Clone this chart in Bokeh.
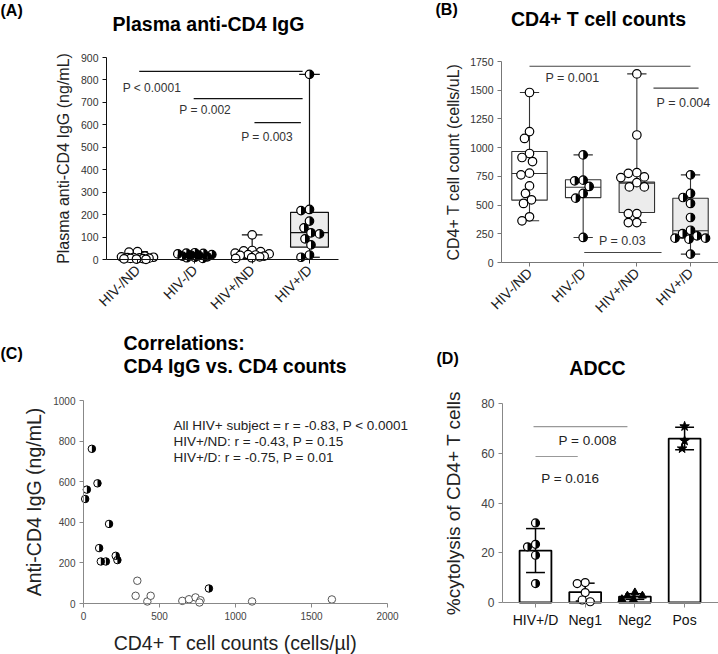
import math
import numpy as np
from bokeh.plotting import figure
from bokeh.layouts import row, column
from bokeh.models import Range1d, FixedTicker
from bokeh.embed import file_html
from bokeh.resources import INLINE
from bokeh.core.properties import value

FONT = "Liberation Sans"

# ------------------------------------------------------------------ data
groups_ab = ["HIV-/ND", "HIV-/D", "HIV+/ND", "HIV+/D"]
group_marker = ["open", "half", "open", "half"]
group_box_fill = ["white", "white", "#ececec", "#ececec"]

# (A) plasma anti-CD4 IgG (ng/mL)
igg_hivneg_nd = [35, 33, 15, 12, 10, 9, 8, 7, 6, 5, 4, 3, 2, 1]
igg_hivneg_d = [30, 28, 27, 25, 22, 20, 18, 15, 12, 10, 8, 5]
igg_hivpos_nd = [110, 40, 38, 35, 28, 25, 22, 20, 18, 15, 12, 8, 5]
igg_hivpos_d = [825, 223, 218, 171, 141, 119, 114, 92, 65, 20, 10]
igg_box_min = [1, 5, 5, 10]
igg_box_q1 = [4, 10, 10, 55]
igg_box_med = [8, 19, 20, 120]
igg_box_q3 = [12, 25, 30, 210]
igg_box_max = [35, 30, 110, 825]
igg_yticks = [0, 100, 200, 300, 400, 500, 600, 700, 800, 900]
igg_sig_from = [0.03, 0.98, 2.04]
igg_sig_to = [2.88, 2.88, 2.85]
igg_sig_level = [838, 717, 610]
igg_sig_text = ["P < 0.0001", "P = 0.002", "P = 0.003"]
igg_sig_text_x = [0.25, 1.18, 2.26]
igg_sig_text_y = [766, 668, 548]

# (B) CD4+ T cell counts (cells/uL)
cd4_hivneg_nd = [1480, 1140, 1080, 949, 914, 879, 778, 763, 667, 601, 546, 514, 398, 363]
cd4_hivneg_d = [937, 717, 711, 662, 601, 560, 218]
cd4_hivpos_nd = [1642, 1110, 782, 776, 745, 739, 695, 658, 658, 426, 426, 348, 348]
cd4_hivpos_d = [763, 601, 566, 514, 392, 281, 252, 232, 212, 212, 203, 73]
cd4_box_min = [363, 218, 348, 73]
cd4_box_q1 = [543, 565, 435, 212]
cd4_box_med = [775, 655, 690, 276]
cd4_box_q3 = [966, 720, 700, 560]
cd4_box_max = [1480, 937, 1642, 763]
cd4_yticks = [0, 250, 500, 750, 1000, 1250, 1500, 1750]
cd4_sig_from = [0.0, 2.31, 1.02]
cd4_sig_to = [3.0, 3.15, 2.46]
cd4_sig_level = [1709, 1518, 87]
cd4_sig_text = ["P = 0.001", "P = 0.004", "P = 0.03"]
cd4_sig_text_x = [0.80, 2.87, 1.73]
cd4_sig_text_y = [1605, 1387, 189]

# (C) correlation
corr_nd_cd4 = [354, 343, 420, 442, 650, 694, 737, 770, 763, 1109, 1634]
corr_nd_igg = [112, 38, 10, 38, 13, 21, 30, 16, 5, 10, 20]
corr_d_cd4 = [55, 92, 22, 11, 168, 103, 114, 147, 212, 223, 825]
corr_d_igg = [762, 592, 561, 515, 392, 273, 207, 207, 235, 214, 74]
corr_xticks = [0, 500, 1000, 1500, 2000]
corr_yticks = [0, 200, 400, 600, 800, 1000]
corr_stats = ["All HIV+ subject = r = -0.83, P < 0.0001",
              "HIV+/ND: r = -0.43, P = 0.15",
              "HIV+/D: r = -0.75, P = 0.01"]
corr_stats_x = [592, 592, 592]
corr_stats_y = [877, 798, 719]

# (D) ADCC
adcc_groups = ["HIV+/D", "Neg1", "Neg2", "Pos"]
adcc_hivpos_d = [32, 23.4, 22.4, 19, 7.6]
adcc_neg1 = [8, 7.6, 4, 1, 0.3]
adcc_neg2 = [4, 2.7, 2.7, 1.3, 1.3]
adcc_pos = [70.8, 65, 61.9]
adcc_marker = ["half", "open", "triangle", "star"]
adcc_yticks = [0, 20, 40, 60, 80]
adcc_sig_from = [-0.04, 0.0]
adcc_sig_to = [1.85, 0.85]
adcc_sig_level = [70.7, 58.7]
adcc_sig_text = ["P = 0.008", "P = 0.016"]
adcc_sig_text_x = [1.05, 0.70]
adcc_sig_text_y = [65, 50]

# ------------------------------------------------------------------ helpers


class Panel:
    """A figure whose frame fills its whole canvas; the axes sit at fixed
    data locations inside it.  Calibration: screen px of data x0 / y0 and
    px per data unit."""

    def __init__(self, canvas, x_px0, x_ppu, y_px0, y_ppu, axis_color):
        self.x_px0, self.x_ppu, self.y_px0, self.y_ppu = x_px0, x_ppu, y_px0, y_ppu
        cx0, cy0, cx1, cy1 = canvas
        self.p = figure(width=cx1 - cx0, height=cy1 - cy0,
                        x_range=Range1d(self.dx(cx0), self.dx(cx1)),
                        y_range=Range1d(self.dy(cy1), self.dy(cy0)),
                        output_backend="svg", toolbar_location=None, title_location=None,
                        min_border_left=0, min_border_right=0, min_border_top=0, min_border_bottom=0)
        p = self.p
        p.xgrid.visible = False
        p.ygrid.visible = False
        p.outline_line_color = None
        for ax in (p.xaxis[0], p.yaxis[0]):
            ax.axis_line_color = axis_color
            ax.major_tick_line_color = axis_color
            ax.minor_tick_line_color = None
            ax.major_tick_in = 0
            ax.major_tick_out = 4
            ax.major_label_standoff = 4
            ax.major_label_text_font = FONT
            ax.axis_label_text_font = FONT
            ax.axis_label_text_font_style = "normal"
            ax.axis_label_text_color = "#222222"
        self.ppx = x_ppu
        self.ppy = y_ppu

    def dx(self, X):
        return (X - self.x_px0) / self.x_ppu

    def dy(self, Y):
        return (self.y_px0 - Y) / self.y_ppu

    def axes(self, yaxis_at_px, x_end_px, y_bounds):
        p = self.p
        p.yaxis[0].fixed_location = self.dx(yaxis_at_px)
        p.xaxis[0].fixed_location = 0
        p.yaxis[0].bounds = y_bounds
        p.xaxis[0].bounds = (self.dx(yaxis_at_px), self.dx(x_end_px))

    def label(self, X, Y, text, size, bold=False, align="left", color="black"):
        self.p.text(x=[self.dx(X)], y=[self.dy(Y)], text=[text], text_font=value(FONT),
                    text_font_size=f"{size}px", text_font_style="bold" if bold else "normal",
                    text_align=align, text_baseline="middle", text_color=color)


def swarm(vals, ppx, ppy, diam, wmax, step=0.5):
    cands = [0.0]
    k = 1
    while k * step <= wmax:
        cands += [-k * step, k * step]
        k += 1
    placed, offs = [], []
    for v in vals:
        y = v * ppy
        best, bestd = 0.0, -1.0
        for c in cands:
            md = min((math.hypot(c - px, y - py) for px, py in placed), default=1e9)
            if md >= diam:
                best = c
                break
            if md > bestd:
                bestd, best = md, c
        placed.append((best, y))
        offs.append(best / ppx)
    return offs


def draw_points(p, xs, ys, kind, size, lw=1.2, color="black"):
    if kind == "open":
        p.scatter(xs, ys, marker="circle", size=size, fill_color="white", line_color=color, line_width=lw)
    elif kind == "half":
        p.scatter(xs, ys, marker="circle", size=size, fill_color="white", line_color=None)
        p.wedge(xs, ys, radius=size / 2, radius_units="screen", start_angle=-math.pi / 2,
                end_angle=math.pi / 2, fill_color="black", line_color=None)
        p.scatter(xs, ys, marker="circle", size=size, fill_color=None, line_color="black", line_width=lw)
    elif kind == "triangle":
        p.scatter(xs, ys, marker="triangle", size=size, fill_color="black", line_color="black")
    elif kind == "star":
        p.scatter(xs, ys, marker="star", size=size + 2, fill_color="black", line_color="black")


def box_panel(P, points, qmin, q1, med, q3, qmax, line_color, lw, wmax, msize):
    p = P.p
    idx = list(range(len(points)))
    p.quad(left=[i - 0.33 for i in idx], right=[i + 0.33 for i in idx], bottom=q1, top=q3,
           fill_color=group_box_fill, line_color=line_color, line_width=lw)
    p.segment(x0=idx, y0=q3, x1=idx, y1=qmax, line_color=line_color, line_width=lw)
    p.segment(x0=idx, y0=qmin, x1=idx, y1=q1, line_color=line_color, line_width=lw)
    for cap in (qmin, qmax):
        p.segment(x0=[i - 0.18 for i in idx], y0=cap, x1=[i + 0.18 for i in idx], y1=cap,
                  line_color=line_color, line_width=lw)
    p.segment(x0=[i - 0.33 for i in idx], y0=med, x1=[i + 0.33 for i in idx], y1=med,
              line_color=line_color, line_width=lw)
    for i, vals in enumerate(points):
        offs = swarm(vals, P.ppx, P.ppy, msize, wmax)
        draw_points(p, [i + o for o in offs], vals, group_marker[i], msize)


def cat_axis(p, labels, rotate, size, color):
    ax = p.xaxis[0]
    ax.ticker = FixedTicker(ticks=list(range(len(labels))))
    ax.major_label_overrides = {i: t for i, t in enumerate(labels)}
    if rotate:
        ax.major_label_orientation = math.pi / 4
    ax.major_label_text_font_size = size
    ax.major_label_text_color = color


# ------------------------------------------------------------------ (A)
A = Panel((0, 0, 355, 322), 137, 57.33, 259, 202 / 900, "#111111")
pA = A.p
A.axes(106, 338, (0, 900))
box_panel(A, [igg_hivneg_nd, igg_hivneg_d, igg_hivpos_nd, igg_hivpos_d],
          igg_box_min, igg_box_q1, igg_box_med, igg_box_q3, igg_box_max, "#111111", 1.2, 17, 8.5)
pA.segment(x0=igg_sig_from, y0=igg_sig_level, x1=igg_sig_to, y1=igg_sig_level, line_color="#111111", line_width=1.2)
pA.text(x=igg_sig_text_x, y=igg_sig_text_y, text=igg_sig_text, text_font=value(FONT), text_font_size="12px",
        text_color="#333333", text_align="center", text_baseline="middle")
pA.yaxis[0].ticker = FixedTicker(ticks=igg_yticks)
pA.yaxis[0].major_label_text_font_size = "10.5px"
pA.yaxis[0].major_label_text_color = "#333333"
pA.yaxis[0].axis_label = "Plasma anti-CD4 IgG (ng/mL)"
pA.yaxis[0].axis_label_text_font_size = "16px"
pA.yaxis[0].axis_label_standoff = 6
cat_axis(pA, groups_ab, True, "14px", "#222222")
A.label(0, 10, "(A)", 16, bold=True)
A.label(208, 23, "Plasma anti-CD4 IgG", 19.5, bold=True, align="center")

# ------------------------------------------------------------------ (B)
B = Panel((355, 0, 718, 322), 529, 53.67, 262, 201 / 1750, "#777777")
pB = B.p
B.axes(501, 718, (0, 1750))
box_panel(B, [cd4_hivneg_nd, cd4_hivneg_d, cd4_hivpos_nd, cd4_hivpos_d],
          cd4_box_min, cd4_box_q1, cd4_box_med, cd4_box_q3, cd4_box_max, "#333333", 1.1, 20, 8.5)
pB.segment(x0=cd4_sig_from, y0=cd4_sig_level, x1=cd4_sig_to, y1=cd4_sig_level, line_color="#444444", line_width=1.1)
pB.text(x=cd4_sig_text_x, y=cd4_sig_text_y, text=cd4_sig_text, text_font=value(FONT), text_font_size="12.5px",
        text_color="#333333", text_align="center", text_baseline="middle")
pB.yaxis[0].ticker = FixedTicker(ticks=cd4_yticks)
pB.yaxis[0].major_label_text_font_size = "10.5px"
pB.yaxis[0].major_label_text_color = "#333333"
pB.yaxis[0].axis_label = "CD4+ T cell count (cells/uL)"
pB.yaxis[0].axis_label_text_font_size = "16px"
pB.yaxis[0].axis_label_standoff = 5
cat_axis(pB, groups_ab, True, "14px", "#222222")
B.label(435, 9, "(B)", 16, bold=True)
B.label(598, 18, "CD4+ T cell counts", 19.5, bold=True, align="center")

# ------------------------------------------------------------------ (C)
C = Panel((0, 322, 420, 654), 83, 0.152, 603, 0.203, "#888888")
pC = C.p
C.axes(83, 387, (0, 1000))
pC.xaxis[0].bounds = (0, 2000)
draw_points(pC, corr_nd_cd4, corr_nd_igg, "open", 7.5, lw=1.0, color="#555555")
draw_points(pC, corr_d_cd4, corr_d_igg, "half", 7.5, lw=1.0)
pC.xaxis[0].ticker = FixedTicker(ticks=corr_xticks)
pC.yaxis[0].ticker = FixedTicker(ticks=corr_yticks)
for ax in (pC.xaxis[0], pC.yaxis[0]):
    ax.major_label_text_font_size = "10px"
    ax.major_label_text_color = "#444444"
    ax.axis_label_text_font_size = "19.5px"
pC.xaxis[0].axis_label = "CD4+ T cell counts (cells/\u00b5l)"
pC.xaxis[0].axis_label_standoff = 9
pC.yaxis[0].axis_label = "Anti-CD4 IgG (ng/mL)"
pC.yaxis[0].axis_label_standoff = 5
pC.text(x=corr_stats_x, y=corr_stats_y, text=corr_stats, text_font=value(FONT),
        text_font_size="13.5px", text_color="#222222", text_align="left", text_baseline="middle")
C.label(0, 353, "(C)", 16, bold=True)
C.label(123, 342, "Correlations:", 19.5, bold=True)
C.label(123, 365, "CD4 IgG vs. CD4 counts", 19.5, bold=True)

# ------------------------------------------------------------------ (D)
D = Panel((420, 322, 718, 654), 535, 49.7, 602, 2.4875, "#888888")
pD = D.p
D.axes(502, 718, (0, 80))
adcc_points = [adcc_hivpos_d, adcc_neg1, adcc_neg2, adcc_pos]
adcc_mean = [float(np.mean(v)) for v in adcc_points]
adcc_sd = [float(np.std(v, ddof=1)) for v in adcc_points]
idxD = list(range(len(adcc_groups)))
pD.vbar(x=idxD, top=adcc_mean, bottom=0, width=0.64, fill_color="white",
        line_color="black", line_width=1.8)
lo = [m - s for m, s in zip(adcc_mean, adcc_sd)]
hi = [m + s for m, s in zip(adcc_mean, adcc_sd)]
pD.segment(x0=idxD, y0=lo, x1=idxD, y1=hi, line_color="black", line_width=1.5)
for cap in (lo, hi):
    pD.segment(x0=[i - 0.19 for i in idxD], y0=cap, x1=[i + 0.19 for i in idxD], y1=cap,
               line_color="black", line_width=1.5)
for i, vals in enumerate(adcc_points):
    offs = swarm(vals, D.ppx, D.ppy, 8, 13)
    draw_points(pD, [i + o for o in offs], vals, adcc_marker[i], 8)
pD.segment(x0=adcc_sig_from, y0=adcc_sig_level, x1=adcc_sig_to, y1=adcc_sig_level, line_color="#999999", line_width=1.2)
pD.text(x=adcc_sig_text_x, y=adcc_sig_text_y, text=adcc_sig_text, text_font=value(FONT), text_font_size="13.5px",
        text_color="#222222", text_align="center", text_baseline="middle")
pD.yaxis[0].ticker = FixedTicker(ticks=adcc_yticks)
pD.yaxis[0].major_label_text_font_size = "12px"
pD.yaxis[0].major_label_text_color = "#444444"
pD.yaxis[0].axis_label = "%cytolysis of CD4+ T cells"
pD.yaxis[0].axis_label_text_font_size = "19px"
pD.yaxis[0].axis_label_standoff = 14
cat_axis(pD, adcc_groups, False, "14px", "#111111")
pD.xaxis[0].major_tick_out = 5
D.label(436, 358, "(D)", 16, bold=True)
D.label(597, 367, "ADCC", 19.5, bold=True, align="center")

layout = column(row(pA, pB), row(pC, pD))
open("out.html", "w").write(file_html(layout, INLINE))
